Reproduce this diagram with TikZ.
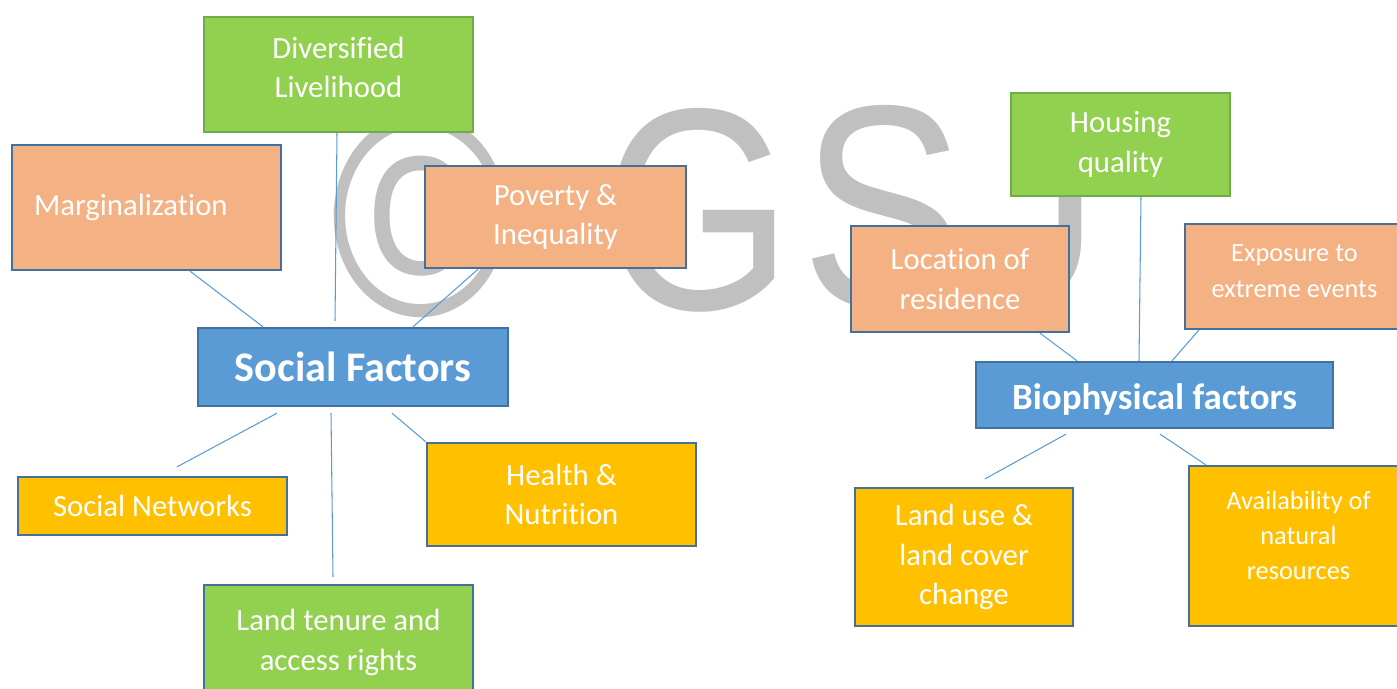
\documentclass[tikz,border=0pt]{standalone}
\usepackage{fontspec}
\setmainfont{Carlito}[Ligatures=NoCommon]
\newfontfamily\markfont{Liberation Sans}

\definecolor{skyfill}{HTML}{5B9BD5}
\definecolor{boxline}{HTML}{41719C}
\definecolor{peachfill}{HTML}{F4B183}
\definecolor{leaffill}{HTML}{92D050}
\definecolor{leafline}{HTML}{70AD47}
\definecolor{amberfill}{HTML}{FFC000}
\definecolor{linkline}{HTML}{5B9BD5}
\definecolor{markgrey}{HTML}{C0C0C0}

\tikzstyle{factor}=[rectangle, draw=boxline, line width=1.3pt, text=white, align=center,
    font=\fontsize{17.5}{22.5}\selectfont]
\tikzstyle{peach}=[fill=peachfill]
\tikzstyle{leaf}=[fill=leaffill]
\tikzstyle{amber}=[fill=amberfill]
\tikzstyle{hub}=[fill=skyfill, font=\bfseries\fontsize{24}{28}\selectfont]
\tikzstyle{smalltext}=[font=\fontsize{15}{20}\selectfont]
\tikzstyle{wmark}=[text=markgrey, inner sep=0pt, font=\markfont\fontsize{164}{164}\selectfont]
\tikzset{boxsize/.style 2 args={minimum width=#1*0.02cm, minimum height=#2*0.02cm}}
\newcommand{\factor}{\node[factor]}
\newcommand{\wm}[1]{\scalebox{0.85}[1]{#1}}
% invisible strut: extra depth under the last line pushes the text up
\newcommand{\lift}[1]{\rule[-#1]{0pt}{0pt}}

\begin{document}
\begin{tikzpicture}[x=0.02cm, y=-0.02cm
    ,every edge/.style={draw=linkline, line width=0.6pt}
]
\useasboundingbox (0,0) rectangle (1397,689);
\clip (0,0) rectangle (1397,689);

% watermark behind everything
\node[wmark] (wcopy) at (421,216) {\wm{©}};
\node[wmark] (wg) at (698,210) {\wm{G}};
\node[wmark] (ws) at (883,207) {\wm{S}};
\node[wmark] (wj) at (1039,200) {\wm{J}};

% social side
\factor[leaf, draw=leafline, boxsize={269}{115}] (div) at (338.5,74.5) {Diversified\\Livelihood\lift{0.28cm}};
\factor[peach, boxsize={269}{125}, align=left, text width=4.5cm, inner xsep=0.44cm] (marg) at (146.5,207.5) {Marginalization};
\factor[peach, boxsize={261}{102}] (pov) at (555.5,217) {Poverty \&\\Inequality};
\factor[hub, boxsize={310}{78}] (soc) at (353,367) {Social Factors};
\factor[amber, boxsize={269}{58}] (net) at (152.5,506) {Social Networks};
\factor[amber, boxsize={269}{103}] (health) at (561.5,494.5) {Health \&\\Nutrition};
\factor[leaf, boxsize={269}{115}] (tenure) at (338.5,642.5) {Land tenure and\\access rights};

% biophysical side
\factor[leaf, draw=leafline, boxsize={219}{103}] (house) at (1120.5,144.5) {Housing\\quality};
\factor[peach, boxsize={218}{106}] (loc) at (960,279) {Location of\\residence};
\factor[peach, smalltext, boxsize={219}{105}] (expo) at (1294.5,276.5) {Exposure to\\extreme events\lift{0.22cm}};
\factor[hub, font=\bfseries\fontsize{21}{25}\selectfont, boxsize={357}{66}] (bio) at (1154.5,395) {\rule{0pt}{0.71cm}Biophysical factors};
\factor[amber, boxsize={218}{138}] (landuse) at (964,557) {Land use \&\\land cover\\change};
\factor[amber, smalltext, boxsize={219}{160}] (avail) at (1298.5,546) {Availability of\\natural\\resources\lift{0.44cm}};

\path
([xshift=0.87cm]marg.south) edge ([xshift=-1.8cm]soc.north)
([xshift=-0.03cm]div.south) edge ([xshift=-0.36cm, yshift=0.12cm]soc.north)
([xshift=-1.55cm]pov.south) edge ([xshift=1.2cm]soc.north)
([xshift=-1.52cm, yshift=-0.12cm]soc.south) edge ([xshift=0.49cm, yshift=0.18cm]net.north)
([xshift=-0.44cm, yshift=-0.12cm]soc.south) edge ([xshift=-0.11cm, yshift=0.14cm]tenure.north)
([xshift=0.78cm, yshift=-0.12cm]soc.south) edge (health.north west)
([xshift=1.6cm]loc.south) edge ([xshift=-1.55cm]bio.north)
([xshift=0.41cm]house.south) edge ([xshift=-0.31cm]bio.north)
([xshift=0.3cm]expo.south west) edge ([xshift=0.35cm]bio.north)
([xshift=-1.77cm, yshift=-0.1cm]bio.south) edge ([xshift=0.42cm, yshift=0.16cm]landuse.north)
([xshift=0.11cm, yshift=-0.1cm]bio.south) edge ([xshift=0.36cm]avail.north west)
;
\end{tikzpicture}
\end{document}
